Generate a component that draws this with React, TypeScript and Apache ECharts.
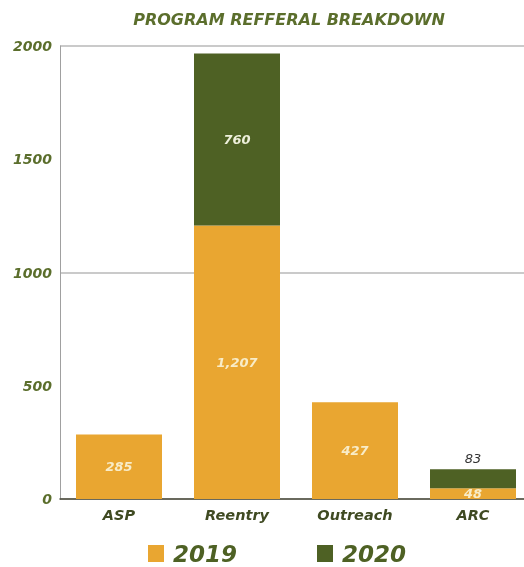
import React, { useEffect, useRef } from "react";
import * as echarts from "echarts";

const categories = ["ASP", "Reentry", "Outreach", "ARC"];
const values2019 = [285, 1207, 427, 48];
const values2020 = [0, 760, 0, 83];
const valueLabels2019 = ["285", "1,207", "427", "48"];
const valueLabels2020 = ["", "760", "", "83"];

const ORANGE = "#E9A631";
const GREEN = "#4E6124";
const OLIVE = "#5B6E2C";

export default function App() {
  const ref = useRef<HTMLDivElement>(null);
  useEffect(() => {
    if (!ref.current) return;
    const chart = echarts.init(ref.current, undefined, { renderer: "svg" });
    const font = "'DejaVu Sans', sans-serif";
    chart.setOption({
      animation: false,
      title: {
        text: "PROGRAM REFFERAL BREAKDOWN",
        left: 284,
        top: 6,
        textAlign: "center",
        textStyle: { fontFamily: font, fontSize: 16, fontStyle: "italic", fontWeight: "bold", color: OLIVE },
      },
      legend: {
        top: 537,
        left: 143,
        itemWidth: 16,
        itemHeight: 17,
        itemGap: 80,
        icon: "rect",
        data: ["2019", "2020"],
        textStyle: { fontFamily: font, fontSize: 23, fontStyle: "italic", fontWeight: "bold", color: GREEN, padding: [0, 0, 0, 4] },
      },
      grid: { left: 60, top: 46, right: 0, height: 453 },
      xAxis: {
        type: "category",
        data: categories,
        axisLine: { lineStyle: { color: "#4a4a3a", width: 1.5 } },
        axisTick: { show: false },
        axisLabel: { fontFamily: font, fontSize: 14.5, fontStyle: "italic", fontWeight: "bold", color: "#3f4a22", margin: 8 },
      },
      yAxis: [
        {
          type: "value",
          min: 0,
          max: 2000,
          interval: 500,
          axisLine: { show: true, lineStyle: { color: "#a0a0a0" } },
          axisTick: { show: false },
          splitLine: { show: false },
          axisLabel: {
            fontFamily: font,
            fontSize: 14,
            fontStyle: "italic",
            fontWeight: "bold",
            color: OLIVE,
            margin: 8,
            formatter: (v: number) => String(v),
          },
        },
        {
          type: "value",
          min: 0,
          max: 2000,
          interval: 1000,
          position: "left",
          axisLine: { show: false },
          axisTick: { show: false },
          axisLabel: { show: false },
          splitLine: { show: true, lineStyle: { color: "#b8b8b8", width: 1.5 } },
        },
      ],
      series: [
        {
          name: "2019",
          type: "bar",
          stack: "total",
          barWidth: 86,
          itemStyle: { color: ORANGE },
          data: values2019.map((v, i) => ({
            value: v,
            label: {
              show: true,
              position: "inside",
              formatter: valueLabels2019[i],
              fontFamily: font,
              fontSize: 13,
              fontStyle: "italic",
              fontWeight: "bold",
              color: "#f8ecc8",
            },
          })),
        },
        {
          name: "2020",
          type: "bar",
          stack: "total",
          barWidth: 86,
          itemStyle: { color: GREEN },
          data: values2020.map((v, i) => ({
            value: v,
            label: {
              show: valueLabels2020[i] !== "",
              position: i === 3 ? "top" : "inside",
              distance: 4,
              formatter: valueLabels2020[i],
              fontFamily: font,
              fontSize: 13,
              fontStyle: "italic",
              fontWeight: i === 3 ? "normal" : "bold",
              color: i === 3 ? "#333333" : "#eef0dc",
            },
          })),
        },
      ],
    });
    return () => chart.dispose();
  }, []);
  return <div ref={ref} style={{ position: "fixed", left: 0, top: 0, width: 532, height: 567 }} />;
}
